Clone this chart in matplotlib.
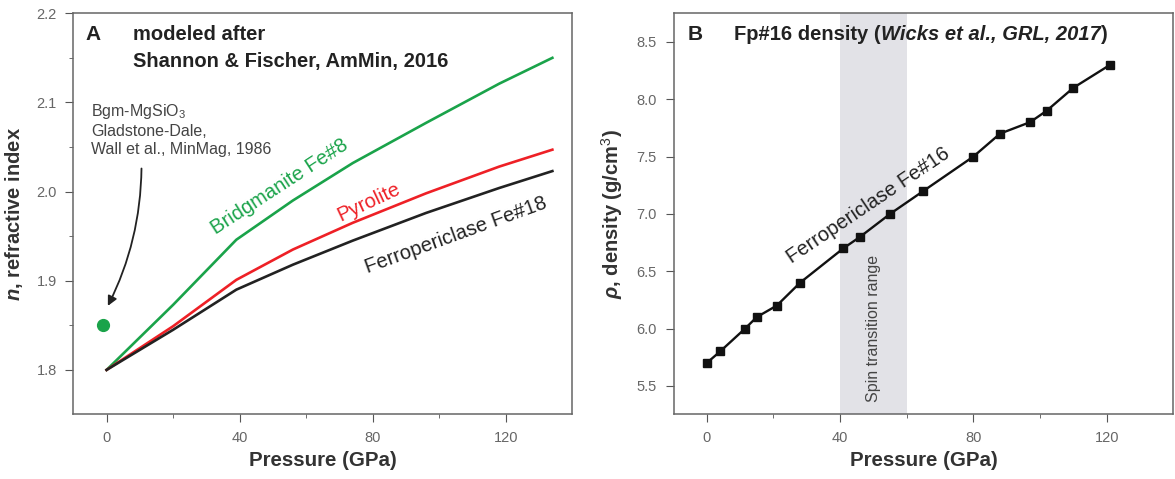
import numpy as np
import matplotlib.pyplot as plt

plt.rcParams['font.family'] = ['Liberation Sans', 'DejaVu Sans']
plt.rcParams['mathtext.fontset'] = 'custom'
plt.rcParams['mathtext.rm'] = 'Liberation Sans'
plt.rcParams['mathtext.it'] = 'Liberation Sans:italic'
plt.rcParams['mathtext.bf'] = 'Liberation Sans:bold'
plt.rcParams['mathtext.bfit'] = 'Liberation Sans:italic:bold'

# panel A: refractive index vs pressure
p_curve = [0, 20, 39, 56, 74, 96, 118, 134]
n_bgm = [1.800, 1.873, 1.946, 1.990, 2.032, 2.077, 2.121, 2.150]
n_pyr = [1.800, 1.849, 1.901, 1.935, 1.965, 1.998, 2.028, 2.047]
n_fp = [1.800, 1.845, 1.890, 1.918, 1.945, 1.976, 2.004, 2.023]
bgm_point = (-1.0, 1.85)

# panel B: Fp#16 density
p_fp16 = [0, 4, 11.5, 15, 21, 28, 41, 46, 55, 65, 80, 88, 97, 102, 110, 121]
rho_fp16 = [5.7, 5.8, 6.0, 6.1, 6.2, 6.4, 6.7, 6.8, 7.0, 7.2, 7.5, 7.7, 7.8, 7.9, 8.1, 8.3]
spin_range = (40, 60)

tick_col = '#666666'
lab_col = '#333333'
green = '#1aa34a'
red = '#ee2026'

fig = plt.figure(figsize=(11.75, 4.79), dpi=100)
axA = fig.add_axes([0.0624, 0.1347, 0.4247, 0.8376])
axB = fig.add_axes([0.5732, 0.1347, 0.4254, 0.8376])

for ax in (axA, axB):
    ax.set_xlim(-10, 140)
    ax.set_xticks([0, 40, 80, 120])
    ax.set_xticks([20, 60, 100], minor=True)
    ax.tick_params(which='both', direction='out', colors='#555555', labelcolor=tick_col, labelsize=10.5)
    ax.tick_params(which='major', length=5.5, pad=6.5)
    ax.tick_params(which='minor', length=3)
    for s in ax.spines.values():
        s.set_color('#666666')
        s.set_linewidth(1.1)
    ax.set_xlabel('Pressure (GPa)', fontsize=14.8, fontweight='bold', color=lab_col, labelpad=4)

# ---- A
axA.set_ylim(1.75, 2.2)
axA.set_yticks([1.8, 1.9, 2.0, 2.1, 2.2])
axA.set_yticks([1.85, 1.95, 2.05, 2.15], minor=True)
axA.yaxis.set_major_formatter(plt.FormatStrFormatter('%.1f'))
axA.plot(p_curve, n_bgm, color=green, lw=1.9)
axA.plot(p_curve, n_pyr, color=red, lw=1.9)
axA.plot(p_curve, n_fp, color='#222222', lw=1.9)
axA.plot(*bgm_point, 'o', color=green, ms=8.5)
axA.set_ylabel(r'$\mathbfit{n}$, refractive index', fontsize=14.5, fontweight='bold', color=lab_col, labelpad=8)

axA.text(0.0234, 0.946, 'A', transform=axA.transAxes, fontsize=15, fontweight='bold', color='#222222', va='center')
axA.text(0.120, 0.946, 'modeled after', transform=axA.transAxes, fontsize=14.5, fontweight='bold',
         color='#222222', va='center')
axA.text(0.120, 0.879, 'Shannon & Fischer, AmMin, 2016', transform=axA.transAxes, fontsize=14.5,
         fontweight='bold', color='#222222', va='center')
axA.text(-4.7, 2.1, 'Bgm-MgSiO$_3$\nGladstone-Dale,\nWall et al., MinMag, 1986', fontsize=11.5,
         color='#444444', va='top', linespacing=1.22)
axA.annotate('', xy=(0, 1.869), xytext=(10.5, 2.029),
             arrowprops=dict(arrowstyle='-|>', color='#222222', lw=1.3, mutation_scale=14,
                             connectionstyle='arc3,rad=-0.12'))
axA.text(52, 2.006, 'Bridgmanite Fe#8', color=green, fontsize=14.5, rotation=33, ha='center', va='center')
axA.text(78.8, 1.988, 'Pyrolite', color=red, fontsize=14.5, rotation=25, ha='center', va='center')
axA.text(104.9, 1.951, 'Ferropericlase Fe#18', color='#222222', fontsize=14.5, rotation=20,
         ha='center', va='center')

# ---- B
axB.set_ylim(5.25, 8.75)
axB.set_yticks([5.5, 6.0, 6.5, 7.0, 7.5, 8.0, 8.5])
axB.yaxis.set_major_formatter(plt.FormatStrFormatter('%.1f'))
axB.axvspan(*spin_range, color='#e2e2e7', lw=0, zorder=0)
axB.plot(p_fp16, rho_fp16, '-s', color='#111111', lw=1.7, ms=6)
axB.set_ylabel(r'$\mathbfit{\rho}$, density (g/cm$^3$)', fontsize=14.5, fontweight='bold', color=lab_col, labelpad=8)
axB.text(50, 6.0, 'Spin transition range', rotation=90, fontsize=11.5, color='#444444',
         ha='center', va='center')
axB.text(48.4, 7.07, 'Ferropericlase Fe#16', rotation=34, fontsize=14.5, color='#222222',
         ha='center', va='center')
axB.text(0.029, 0.946, 'B', transform=axB.transAxes, fontsize=15, fontweight='bold', color='#222222', va='center')

# title in three pieces so the citation can be italic
t1 = axB.text(0.121, 0.946, 'Fp#16 density (', transform=axB.transAxes, fontsize=14.5,
              fontweight='bold', color='#222222', va='center')
t2 = axB.annotate('Wicks et al., GRL, 2017', xy=(1, 0), xycoords=t1, va='bottom', ha='left',
                  fontsize=14.5, fontweight='bold', fontstyle='italic', color='#222222')
axB.annotate(')', xy=(1, 0), xycoords=t2, va='bottom', ha='left',
             fontsize=14.5, fontweight='bold', color='#222222')

fig.savefig('out.png', dpi=100)
